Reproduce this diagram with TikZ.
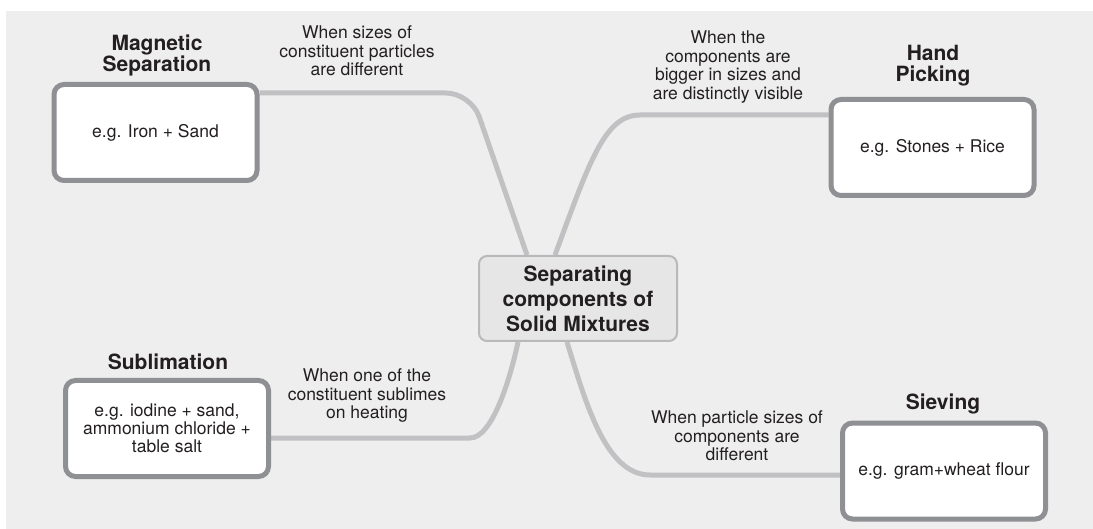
\documentclass[tikz,border=0pt]{standalone}
\usepackage{fontspec}
\setmainfont{TeX Gyre Heros}
\usetikzlibrary{backgrounds}
\definecolor{bgc}{HTML}{EEEEEE}
\definecolor{cfill}{HTML}{E6E6E7}
\definecolor{cdraw}{HTML}{B9B9BB}
\definecolor{conncol}{HTML}{C1C1C4}
\definecolor{boxdraw}{HTML}{8F9093}
\definecolor{txt}{HTML}{231F20}
\tikzset{
  centerbox/.style={draw=cdraw, fill=cfill, line width=2pt, rounded corners=8pt,
    minimum width=198pt, minimum height=85pt, align=center, text=txt,
    font=\bfseries\fontsize{21}{25}\selectfont},
  methodbox/.style={draw=boxdraw, fill=white, line width=5pt, rounded corners=10pt,
    minimum width=203pt, minimum height=96pt, align=center, text=txt,
    font=\fontsize{17.5}{18}\selectfont},
  titletext/.style={align=center, text=txt, font=\bfseries\fontsize{21}{21}\selectfont},
  condtext/.style={align=center, text=txt, font=\fontsize{17.5}{18.5}\selectfont},
  conn/.style={draw=conncol, line width=5pt}
}
\begin{document}
\begin{tikzpicture}[x=1pt,y=-1pt]
\useasboundingbox (0,0) rectangle (1093,529);

\node[centerbox] (c) at (578,298.5) {Separating\\components of\\Solid Mixtures};

\node[methodbox] (mag) at (155.5,132.5) {e.g. Iron + Sand};
\node[methodbox] (hand) at (932.5,147.5) {e.g. Stones + Rice};
\node[methodbox] (sub) at (167,428.5) {e.g. iodine + sand,\\ammonium chloride +\\table salt};
\node[methodbox] (sieve) at (944,471) {e.g. gram+wheat flour};

\node[titletext] (magt) at (157,55) {Magnetic\\Separation};
\node[titletext] (handt) at (933,66) {Hand\\Picking};
\node[titletext] (subt) at (168,362) {Sublimation};
\node[titletext] (sievet) at (943,404) {Sieving};

\node[condtext] (l1) at (357,51) {When sizes of\\constituent particles\\are different};
\node[condtext] (l2) at (728,67) {When the\\components are\\bigger in sizes and\\are distinctly visible};
\node[condtext] (l3) at (367,396) {When one of the\\constituent sublimes\\on heating};
\node[condtext] (l4) at (737,436) {When particle sizes of\\components are\\different};

\begin{scope}[on background layer]
\fill[white] (0,0) rectangle (1093,529);
\fill[bgc] (6,11) rectangle (1093,529);
\draw[conn, rounded corners=25pt] ([yshift=39.5pt]mag.east) -- (471,93) -- ([xshift=-51pt]c.north);
\draw[conn] ([xshift=-23pt]c.north) .. controls (590,160) and (605,115) .. (640,115) -- ([yshift=32.5pt]hand.west);
\draw[conn] ([yshift=-9.5pt]sub.east) -- (470,438) .. controls (492,438) and (510,380) .. ([xshift=-60pt]c.south);
\draw[conn] ([xshift=-11pt]c.south) .. controls (585,400) and (605,475) .. (650,475) -- ([yshift=-4pt]sieve.west);
\end{scope}
\end{tikzpicture}
\end{document}
